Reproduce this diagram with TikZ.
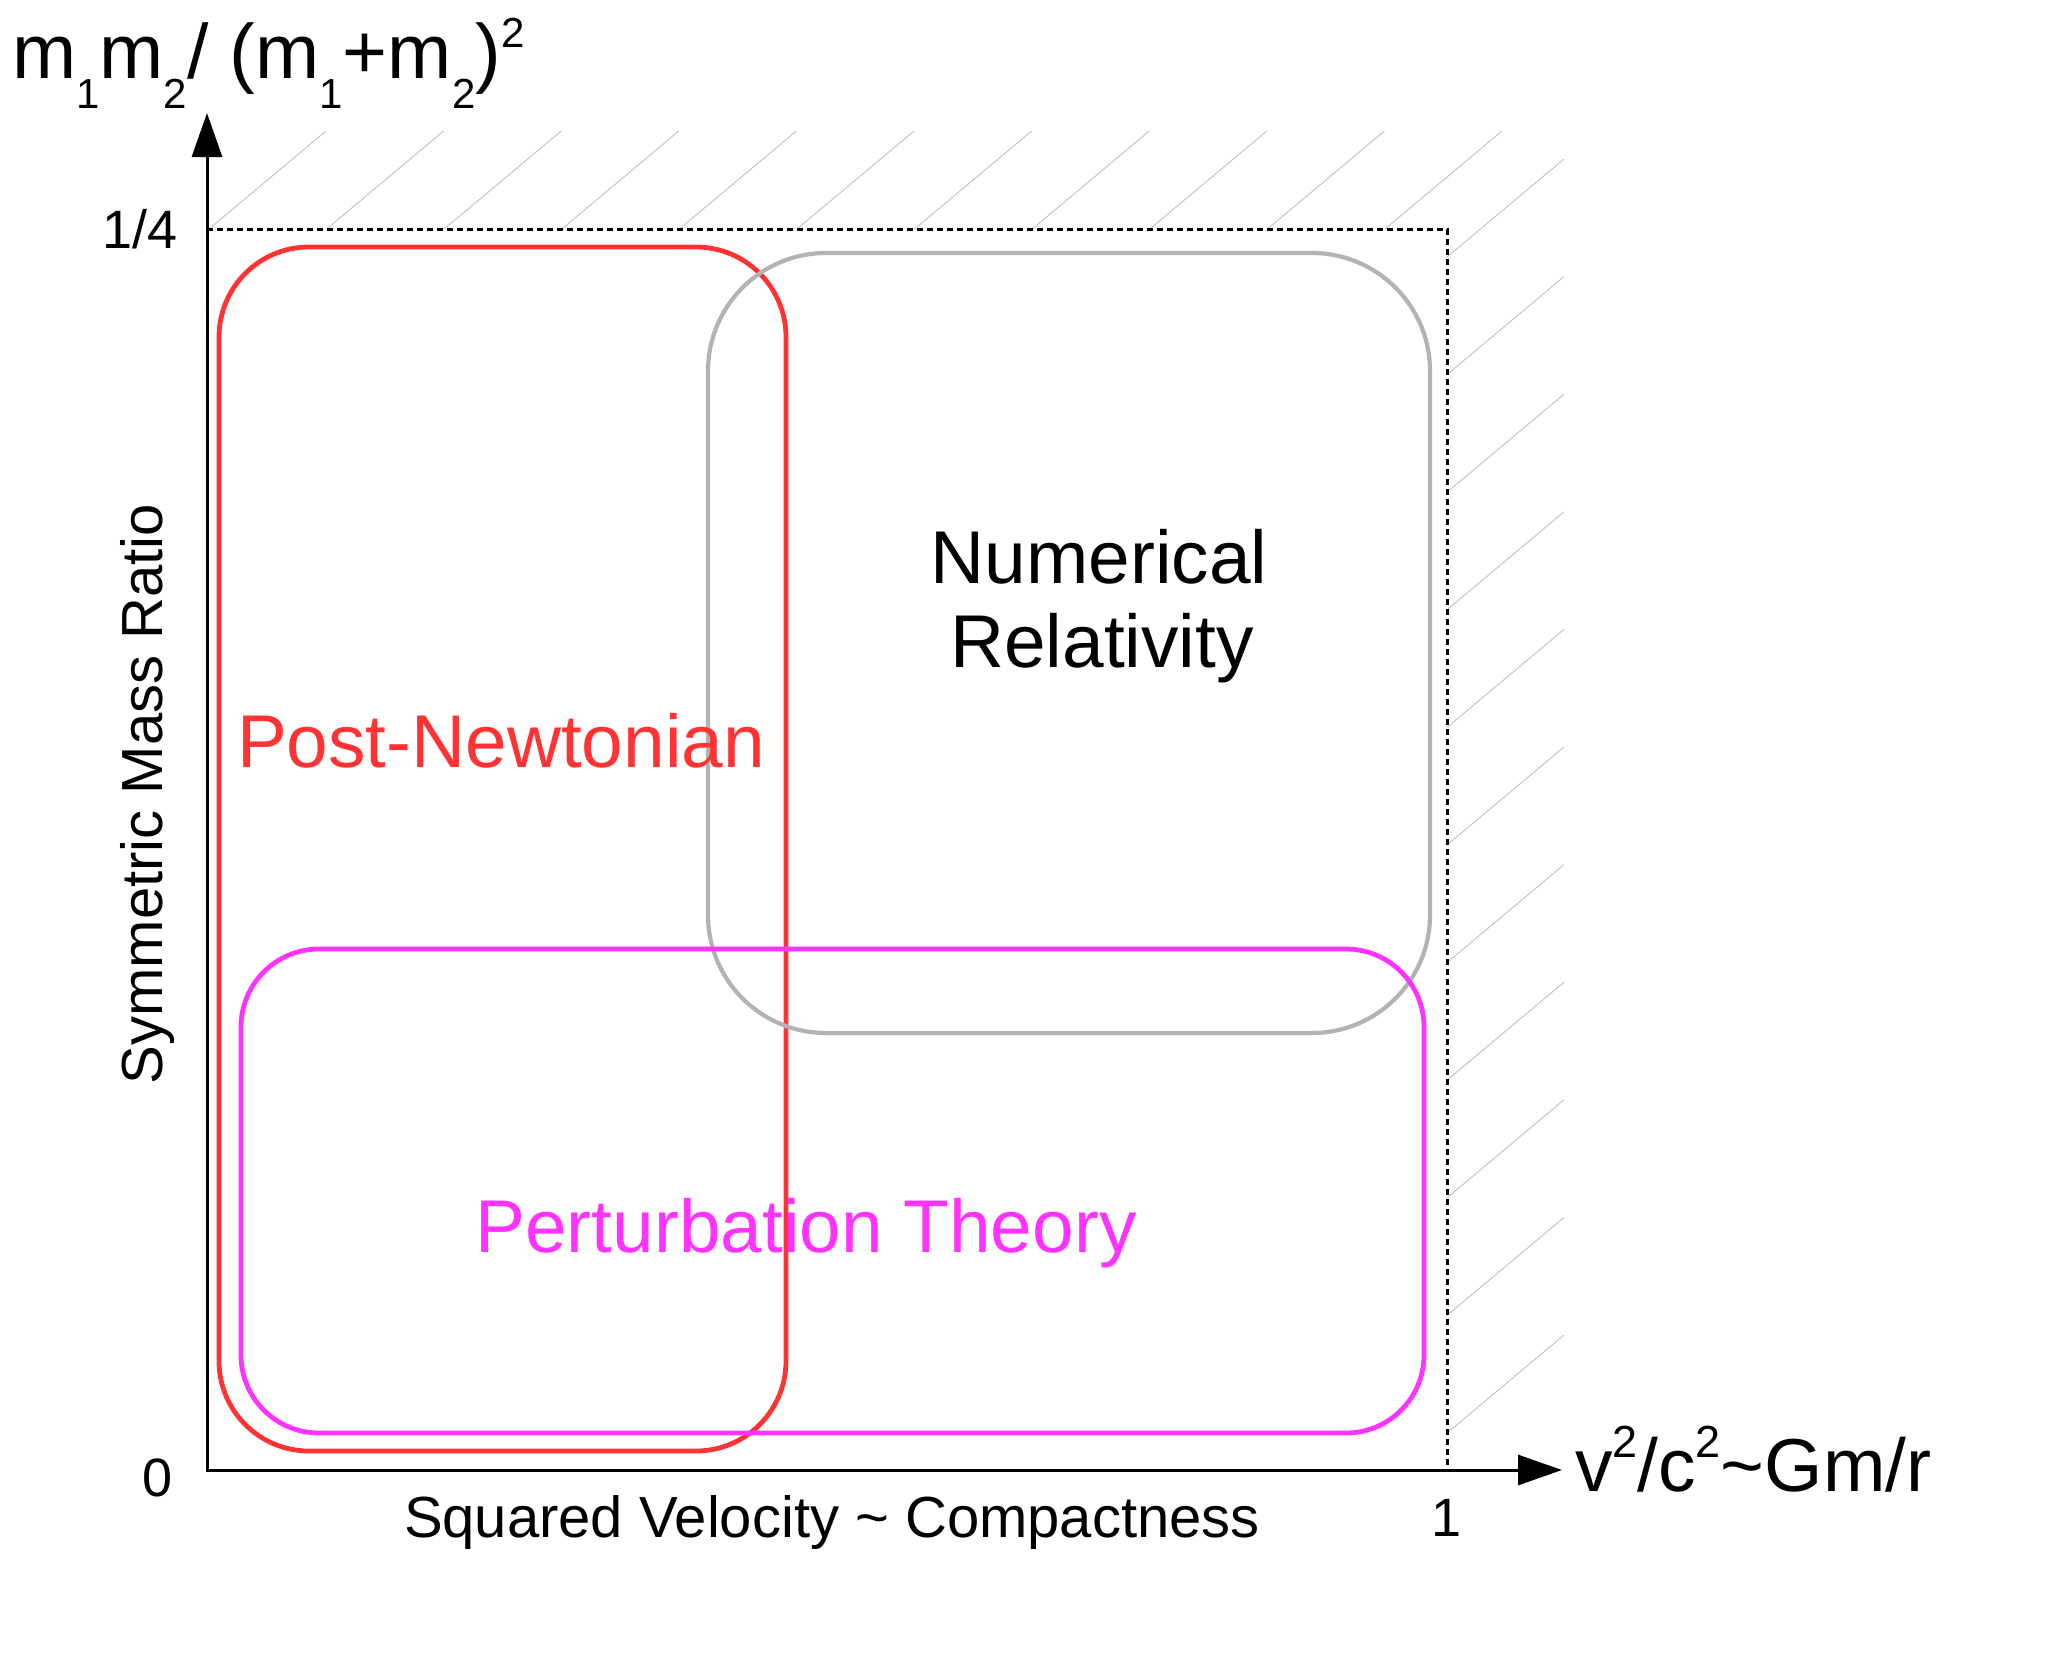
\documentclass[tikz,border=0pt]{standalone}
\usepackage{fontspec}
\setmainfont{Liberation Sans}
\usetikzlibrary{arrows.meta}
\definecolor{pnred}{HTML}{FF3333}
\definecolor{nrgray}{HTML}{B3B3B3}
\definecolor{ptmag}{HTML}{FF33FF}
\definecolor{hatchgray}{HTML}{C4C4C4}
\newcommand\lsub[1]{\raisebox{-0.40em}{\fontsize{21pt}{21pt}\selectfont #1}}
\newcommand\lsup[1]{\raisebox{0.40em}{\fontsize{21pt}{21pt}\selectfont #1}}
\newcommand\vsup[1]{\raisebox{0.45em}{\fontsize{22.5pt}{22.5pt}\selectfont #1}}
\begin{document}
\begin{tikzpicture}[x=0.5pt,y=-0.5pt,
  every node/.style={inner sep=0pt, outer sep=0pt},
  biglabel/.style={font=\fontsize{37.4pt}{44pt}\selectfont},
  ticklabel/.style={font=\fontsize{27pt}{32pt}\selectfont},
  axtitle/.style={font=\fontsize{29pt}{34pt}\selectfont},
  hatchline/.style={draw=hatchgray, line width=0.5pt},
  region/.style={line width=2.4pt},
  axisline/.style={line width=1.5pt, line join=miter},
  limitline/.style={line width=1.5pt, dash pattern=on 2.75pt off 2.25pt}]
\useasboundingbox (0,0) rectangle (2067,1655);

% hatching
\foreach \k in {0,...,10} {
  \draw[hatchline] ({209+117.6*\k},229) -- ++(117,-98);
  \draw[hatchline] (1447,{257+117.6*\k}) -- ++(117,-98);
}

% limit (dotted) lines
\coordinate (origin) at (207,1470);
\coordinate (ytop) at (207,113);
\coordinate (xend) at (1562,1470);
\coordinate (qtr) at (207,229);
\coordinate (corner) at (1447,229);
\coordinate (one) at (1447,1470);
\draw[limitline] (qtr) -- (corner) -- (one);

% regions
\draw[region, draw=pnred, rounded corners=45pt] (219,247) rectangle (786,1451);
\draw[region, draw=nrgray, line width=2.1pt, rounded corners=59pt] (708,253) rectangle (1430,1033);
\draw[region, draw=ptmag, rounded corners=39pt] (241,949) rectangle (1424,1433);

% axes
\draw[axisline, arrows={Triangle[length=22pt,width=15pt]-Triangle[length=22pt,width=15pt]}]
  (ytop) -- (origin) -- (xend);

% labels
\node[anchor=base west, font=\fontsize{38.5pt}{44pt}\selectfont] (ylab) at (12,78)
  {m\lsub{1}m\lsub{2}/ (m\lsub{1}+m\lsub{2})\lsup{2}};
\node[anchor=base west, font=\fontsize{37.5pt}{44pt}\selectfont] (xlab) at (1575,1491)
  {v\vsup{2}/c\vsup{2}\textasciitilde Gm/r};
\node[ticklabel, anchor=base east] (tq) at (178,248) {1/4};
\node[ticklabel, anchor=base] (tz) at (158,1496) {0};
\node[ticklabel, anchor=base] (to) at (1446,1536) {1};
\node[axtitle, anchor=base west] (xtitle) at (404,1537) {Squared Velocity \textasciitilde{} Compactness};
\node[axtitle, anchor=base, rotate=90] (ytitle) at (162,794) {Symmetric Mass Ratio};

\node[biglabel, anchor=base] (nr1) at (1099,583) {Numerical};
\node[biglabel, anchor=base] (nr2) at (1102,667) {Relativity};
\node[biglabel, anchor=base west, text=pnred] (pn) at (237,767) {Post-Newtonian};
\node[biglabel, anchor=base, text=ptmag] (pt) at (806,1252) {Perturbation Theory};
\end{tikzpicture}
\end{document}
